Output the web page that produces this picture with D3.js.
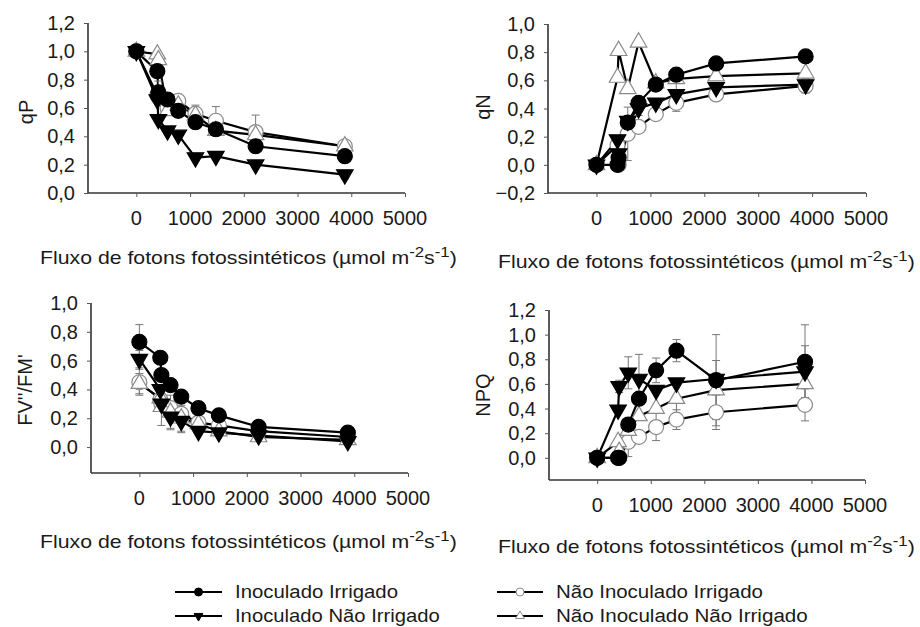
<!DOCTYPE html>
<html><head><meta charset="utf-8">
<script src="https://cdn.jsdelivr.net/npm/d3@7"></script>
<style>body{margin:0;background:#fff} svg{display:block}</style>
</head><body><svg id="c" width="920" height="627"></svg>
<script>
// ---------- DATA ----------
const xVals = [0, 390, 410, 580, 780, 1100, 1480, 2220, 3880];
const seriesNames = ["Inoculado Irrigado", "Inoculado Não Irrigado", "Não Inoculado Irrigado", "Não Inoculado Não Irrigado"];
const xTicks = [0, 1000, 2000, 3000, 4000, 5000];
const yTicks12 = [0, 0.2, 0.4, 0.6, 0.8, 1.0, 1.2];
const yTicks10n = [-0.2, 0, 0.2, 0.4, 0.6, 0.8, 1.0];
const yTicks10 = [0, 0.2, 0.4, 0.6, 0.8, 1.0];
const panelLabels = ["qP", "qN", "FV''/FM'", "NPQ"];

// qP
const qP_II   = [1.00, 0.86, 0.71, 0.66, 0.58, 0.50, 0.45, 0.33, 0.26];
const qP_INI  = [1.00, 0.66, 0.52, 0.44, 0.41, 0.25, 0.26, 0.20, 0.13];
const qP_NII  = [1.00, 0.69, 0.68, 0.60, 0.65, 0.56, 0.51, 0.43, 0.33];
const qP_NINI = [1.00, 0.98, 0.94, 0.58, 0.62, 0.55, 0.44, 0.41, 0.33];
const qP_II_err   = [0, 0, 0.08, 0, 0, 0, 0, 0, 0];
const qP_INI_err  = [0, 0, 0, 0, 0, 0, 0, 0, 0.03];
const qP_NII_err  = [0, 0.05, 0, 0, 0.02, 0.06, 0.10, 0.12, 0.02];
const qP_NINI_err = [0, 0, 0, 0, 0, 0.05, 0, 0, 0];

// qN
const qN_II   = [0.00, 0.00, 0.05, 0.30, 0.44, 0.57, 0.64, 0.72, 0.77];
const qN_INI  = [0.00, 0.18, 0.08, 0.31, 0.40, 0.44, 0.50, 0.55, 0.57];
const qN_NII  = [0.00, 0.14, 0.00, 0.22, 0.27, 0.36, 0.44, 0.50, 0.56];
const qN_NINI = [0.00, 0.62, 0.81, 0.54, 0.87, 0.58, 0.61, 0.63, 0.65];
const qN_II_err   = [0, 0, 0, 0, 0, 0, 0, 0, 0];
const qN_INI_err  = [0, 0, 0, 0, 0.05, 0, 0.10, 0, 0];
const qN_NII_err  = [0, 0, 0, 0.19, 0, 0, 0.06, 0.03, 0.05];
const qN_NINI_err = [0, 0, 0, 0, 0, 0, 0, 0.03, 0];

// FV'/FM'
const fv_II   = [0.73, 0.62, 0.50, 0.43, 0.35, 0.27, 0.22, 0.14, 0.10];
const fv_INI  = [0.61, 0.40, 0.30, 0.21, 0.18, 0.11, 0.10, 0.08, 0.04];
const fv_NII  = [0.45, 0.33, 0.30, 0.27, 0.23, 0.17, 0.15, 0.11, 0.07];
const fv_NINI = [0.44, 0.34, 0.28, 0.24, 0.20, 0.16, 0.11, 0.07, 0.05];
const fv_II_err   = [0.12, 0, 0, 0, 0, 0, 0, 0, 0];
const fv_INI_err  = [0.06, 0, 0, 0.08, 0.08, 0, 0, 0, 0];
const fv_NII_err  = [0.09, 0, 0, 0, 0, 0, 0, 0, 0];
const fv_NINI_err = [0.07, 0, 0.13, 0.12, 0.09, 0, 0, 0, 0];

// NPQ
const npq_II   = [0.00, 0.00, 0.00, 0.27, 0.48, 0.71, 0.87, 0.63, 0.78];
const npq_INI  = [0.00, 0.39, 0.58, 0.69, 0.64, 0.55, 0.61, 0.64, 0.70];
const npq_NII  = [0.00, 0.00, 0.00, 0.13, 0.17, 0.25, 0.31, 0.37, 0.43];
const npq_NINI = [0.00, 0.13, 0.05, 0.22, 0.34, 0.40, 0.48, 0.55, 0.60];
const npq_II_err   = [0, 0, 0, 0, 0, 0.10, 0.09, 0.37, 0.30];
const npq_INI_err  = [0, 0, 0.05, 0.13, 0.20, 0, 0, 0, 0.21];
const npq_NII_err  = [0, 0, 0, 0.12, 0, 0.11, 0.08, 0.14, 0.13];
const npq_NINI_err = [0, 0, 0, 0, 0, 0, 0.15, 0.24, 0];

// ---------- LAYOUT ----------
const svg = d3.select("#c");
const FONT = "'Liberation Sans', Arial, sans-serif";
const panels = [
  {label: panelLabels[0], vals: [qP_II, qP_INI, qP_NII, qP_NINI], errs: [qP_II_err, qP_INI_err, qP_NII_err, qP_NINI_err],
   yDom: [0, 1.2], yTicks: yTicks12, x0: 88, x1: 405, yTop: 23, yBot: 193, ytx: 26, yty: 112, tickY: 225, titleX: 40, titleY: 264},
  {label: panelLabels[1], vals: [qN_II, qN_INI, qN_NII, qN_NINI], errs: [qN_II_err, qN_INI_err, qN_NII_err, qN_NINI_err],
   yDom: [-0.2, 1.0], yTicks: yTicks10n, x0: 548, x1: 866, yTop: 24, yBot: 193, ytx: 483, yty: 107, tickY: 225, titleX: 498, titleY: 268},
  {label: panelLabels[2], vals: [fv_II, fv_INI, fv_NII, fv_NINI], errs: [fv_II_err, fv_INI_err, fv_NII_err, fv_NINI_err],
   yDom: [-0.18, 1.0], yTicks: yTicks10, x0: 91, x1: 408, yTop: 303, yBot: 473, ytx: 25, yty: 390, tickY: 505, titleX: 40, titleY: 548},
  {label: panelLabels[3], vals: [npq_II, npq_INI, npq_NII, npq_NINI], errs: [npq_II_err, npq_INI_err, npq_NII_err, npq_NINI_err],
   yDom: [-0.18, 1.2], yTicks: yTicks12, x0: 549, x1: 865, yTop: 310, yBot: 480, ytx: 483, yty: 395, tickY: 512, titleX: 498, titleY: 553}
];

const styles = [
  {shape: "circle", fill: "#000", stroke: "#000"},
  {shape: "down", fill: "#000", stroke: "#000"},
  {shape: "circle", fill: "#fff", stroke: "#8a8a8a"},
  {shape: "up", fill: "#fff", stroke: "#8a8a8a"}
];

function markerPath(shape, s) {
  if (shape === "circle") return d3.symbol(d3.symbolCircle, Math.PI * s * s)();
  const h = s * 1.9, w = s * 1.1;
  if (shape === "down") return `M${-w},${-h/3}L${w},${-h/3}L0,${2*h/3}Z`;
  return `M${-w},${h/3}L${w},${h/3}L0,${-2*h/3}Z`;
}
const fmt = d => d3.format(".1f")(d).replace(".", ",").replace("-0,0", "0,0");

function fitText(sel, width) {
  const w = sel.node().getComputedTextLength();
  const x = +sel.attr("x"), y = +sel.attr("y");
  sel.attr("x", 0).attr("y", 0).attr("transform", `translate(${x},${y}) scale(${width / w},1)`);
}

panels.forEach(p => {
  const g = svg.append("g");
  const x = d3.scaleLinear().domain([-900, 5000]).range([p.x0, p.x1]);
  const y = d3.scaleLinear().domain(p.yDom).range([p.yBot, p.yTop]);

  const xa = g.append("g").attr("transform", `translate(0,${p.yBot})`)
    .call(d3.axisBottom(x).tickValues(xTicks).tickSize(4).tickFormat(""));
  xa.select(".domain").attr("d", `M${p.x0},0H${p.x1}`);
  const ya = g.append("g").attr("transform", `translate(${p.x0},0)`)
    .call(d3.axisLeft(y).tickValues(p.yTicks).tickSize(4).tickFormat(""));
  ya.select(".domain").attr("d", `M0,${p.yTop}V${p.yBot}`);
  g.selectAll(".domain").attr("stroke", "#333").attr("stroke-width", 1.6);
  g.selectAll(".tick line").attr("stroke", "#555").attr("stroke-width", 1);

  g.selectAll(".xl").data(xTicks).join("text")
    .attr("x", d => x(d)).attr("y", p.tickY).attr("text-anchor", "middle")
    .attr("font-family", FONT).attr("font-size", 20).attr("fill", "#1a1a1a").text(d => d);
  g.selectAll(".yl").data(p.yTicks).join("text")
    .attr("x", p.x0 - 13).attr("y", d => y(d) + 7).attr("text-anchor", "end")
    .attr("font-family", FONT).attr("font-size", 20).attr("fill", "#1a1a1a").text(fmt);

  g.append("text").attr("transform", `translate(${p.ytx + 7},${p.yty}) rotate(-90)`)
    .attr("text-anchor", "middle").attr("font-family", FONT).attr("font-size", 20).attr("fill", "#1a1a1a")
    .text(p.label);

  const t = g.append("text").attr("x", p.titleX).attr("y", p.titleY)
    .attr("font-family", FONT).attr("font-size", 19).attr("fill", "#1a1a1a");
  t.append("tspan").text("Fluxo de fotons fotossintéticos  (µmol m");
  t.append("tspan").attr("dy", -7).attr("font-size", 15).text("-2");
  t.append("tspan").attr("dy", 7).text("s");
  t.append("tspan").attr("dy", -7).attr("font-size", 15).text("-1");
  t.append("tspan").attr("dy", 7).text(")");
  fitText(t, 417);

  const line = d3.line().x((d, i) => x(xVals[i])).y(d => y(d));
  p.vals.forEach((v, si) => {
    g.append("path").attr("d", line(v)).attr("fill", "none").attr("stroke", "#000").attr("stroke-width", 2.2);
  });
  p.errs.forEach((e, si) => {
    e.forEach((ev, i) => {
      if (!ev) return;
      const cx = x(xVals[i]), y1 = y(p.vals[si][i] - ev), y2 = y(p.vals[si][i] + ev);
      g.append("path").attr("d", `M${cx},${y1}V${y2}M${cx-4},${y1}H${cx+4}M${cx-4},${y2}H${cx+4}`)
        .attr("stroke", "#777").attr("stroke-width", 1).attr("fill", "none");
    });
  });
  [2, 3, 1, 0].forEach(si => {
    const st = styles[si];
    g.selectAll(null).data(p.vals[si]).join("path")
      .attr("transform", (d, i) => `translate(${x(xVals[i])},${y(d)})`)
      .attr("d", markerPath(st.shape, 7.5)).attr("fill", st.fill).attr("stroke", st.stroke).attr("stroke-width", 1.2);
  });
});

// ---------- LEGEND ----------
const legPos = [[175, 222, 235, 598], [175, 222, 235, 622], [497, 543, 556, 598], [497, 543, 556, 622]];
const legW = [163, 205, 207, 252];
seriesNames.forEach((n, i) => {
  const [a, b, tx, ty] = legPos[i];
  const st = styles[i];
  svg.append("path").attr("d", `M${a},${ty - 6}H${b}`).attr("stroke", "#000").attr("stroke-width", 2);
  svg.append("path").attr("transform", `translate(${(a + b) / 2},${ty - 6})`)
    .attr("d", markerPath(st.shape, 4)).attr("fill", st.fill).attr("stroke", st.stroke).attr("stroke-width", 1);
  const t = svg.append("text").attr("x", tx).attr("y", ty).attr("font-family", FONT)
    .attr("font-size", 19).attr("fill", "#1a1a1a").text(n);
  fitText(t, legW[i]);
});
</script></body></html>
